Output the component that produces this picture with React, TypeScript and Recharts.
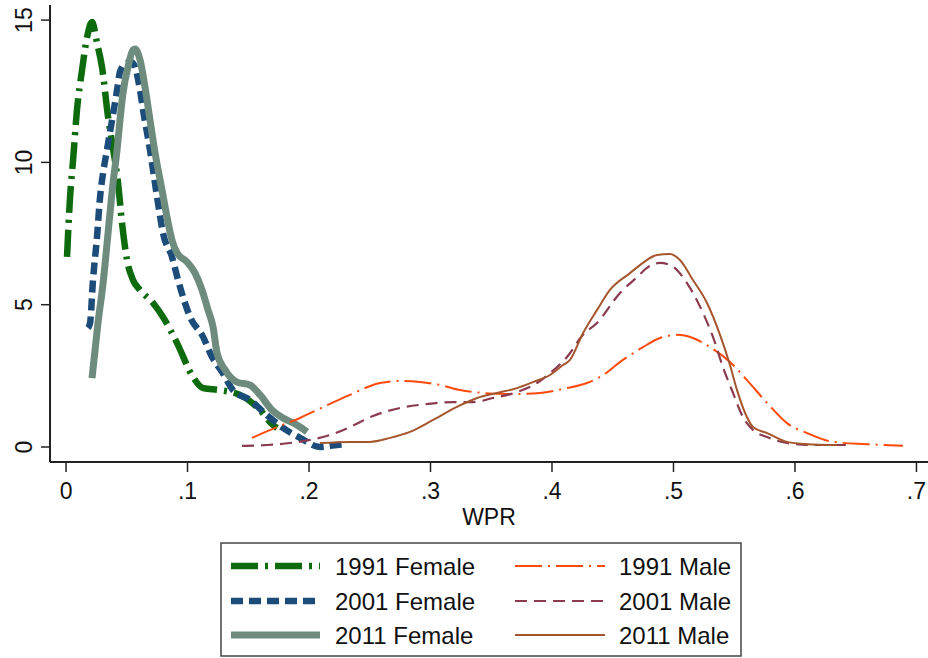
import React from 'react';
import { LineChart, Line, XAxis, YAxis } from 'recharts';

// ---- data (x = WPR, y = density) ----
const f1991X = [0.0008, 0.0033, 0.0058, 0.009, 0.0132, 0.0173, 0.0214, 0.0255, 0.0296, 0.0346, 0.0379, 0.0428, 0.0461, 0.0502, 0.0551, 0.0609, 0.0716, 0.0798, 0.0914, 0.1045, 0.1128, 0.1267, 0.1432, 0.1597, 0.1704, 0.1737];
const f1991Y = [6.68, 8.78, 10.08, 11.84, 13.25, 14.4, 14.93, 14.2, 13.35, 11.6, 10.7, 9.28, 7.87, 6.57, 5.87, 5.52, 5.06, 4.57, 3.65, 2.46, 2.07, 2.0, 1.83, 1.3, 0.77, 0.67];

const f2001X = [0.0181, 0.0198, 0.0222, 0.0255, 0.028, 0.0305, 0.0337, 0.0379, 0.042, 0.0444, 0.0494, 0.0535, 0.0568, 0.0609, 0.0634, 0.0691, 0.0716, 0.0757, 0.0798, 0.0872, 0.0922, 0.0963, 0.1021, 0.1128, 0.1202, 0.1284, 0.1374, 0.1514, 0.1654, 0.1786, 0.1926, 0.209, 0.223, 0.231];
const f2001Y = [4.18, 4.36, 5.87, 7.38, 8.78, 9.63, 10.44, 11.49, 12.54, 13.18, 13.49, 13.53, 13.35, 12.54, 11.84, 10.44, 9.73, 8.57, 7.52, 6.68, 5.87, 5.27, 4.57, 3.87, 3.16, 2.64, 2.0, 1.65, 1.12, 0.67, 0.32, 0.0, 0.07, 0.1];

const f2011X = [0.0214, 0.0263, 0.0305, 0.0346, 0.0387, 0.042, 0.0444, 0.0469, 0.051, 0.0551, 0.0568, 0.0609, 0.065, 0.0691, 0.0733, 0.079, 0.0831, 0.0872, 0.0914, 0.0996, 0.1062, 0.1119, 0.1169, 0.121, 0.1243, 0.1309, 0.1407, 0.1514, 0.1597, 0.1695, 0.1786, 0.1901, 0.1984];
const f2011Y = [2.42, 4.36, 5.76, 7.52, 9.28, 10.44, 11.49, 12.44, 13.35, 13.95, 13.98, 13.6, 12.65, 11.49, 10.33, 9.03, 8.08, 7.27, 6.82, 6.5, 6.11, 5.52, 4.81, 4.22, 3.3, 2.71, 2.28, 2.18, 1.83, 1.3, 1.02, 0.77, 0.53];

const m1991X = [0.1531, 0.172, 0.1926, 0.2115, 0.2337, 0.2584, 0.2749, 0.2914, 0.3078, 0.3243, 0.3432, 0.3654, 0.3901, 0.4123, 0.4288, 0.4395, 0.4584, 0.4749, 0.4889, 0.5029, 0.516, 0.53, 0.5465, 0.5605, 0.577, 0.5934, 0.6099, 0.6313, 0.6593, 0.6889];
const m1991Y = [0.32, 0.67, 1.02, 1.4, 1.83, 2.25, 2.32, 2.28, 2.18, 2.0, 1.9, 1.86, 1.9, 2.07, 2.25, 2.46, 3.06, 3.51, 3.83, 3.94, 3.83, 3.51, 2.99, 2.35, 1.55, 0.84, 0.49, 0.18, 0.1, 0.04];

const m2001X = [0.1449, 0.1654, 0.1844, 0.2008, 0.2173, 0.2337, 0.2527, 0.2749, 0.2971, 0.3185, 0.335, 0.3514, 0.3712, 0.3877, 0.3984, 0.4123, 0.4255, 0.437, 0.456, 0.47, 0.479, 0.4889, 0.4988, 0.5111, 0.5243, 0.5325, 0.5407, 0.549, 0.5572, 0.5654, 0.577, 0.5934, 0.6148, 0.6428];
const m2001Y = [0.04, 0.07, 0.14, 0.25, 0.42, 0.7, 1.09, 1.37, 1.51, 1.58, 1.58, 1.72, 1.93, 2.25, 2.6, 3.16, 3.94, 4.36, 5.41, 5.97, 6.32, 6.47, 6.36, 5.76, 4.71, 3.87, 2.81, 1.9, 1.05, 0.6, 0.35, 0.14, 0.07, 0.07];

const m2011X = [0.209, 0.2337, 0.2502, 0.2667, 0.2831, 0.3021, 0.3218, 0.3383, 0.3547, 0.3712, 0.3844, 0.3984, 0.4091, 0.4148, 0.4255, 0.437, 0.4477, 0.4642, 0.4749, 0.4864, 0.4971, 0.5053, 0.516, 0.5276, 0.5383, 0.5465, 0.5523, 0.5605, 0.5654, 0.577, 0.5934, 0.6099, 0.6346];
const m2011Y = [0.14, 0.18, 0.18, 0.32, 0.53, 0.95, 1.41, 1.72, 1.9, 2.07, 2.28, 2.53, 2.88, 3.06, 4.0, 4.81, 5.52, 6.11, 6.47, 6.75, 6.78, 6.57, 5.87, 5.06, 3.94, 2.88, 2.0, 1.05, 0.7, 0.49, 0.18, 0.1, 0.07];

const xTicks = [0, 0.1, 0.2, 0.3, 0.4, 0.5, 0.6, 0.7];
const xTickLabels = ['0', '.1', '.2', '.3', '.4', '.5', '.6', '.7'];
const yTicks = [0, 5, 10, 15];
const yTickLabels = ['0', '5', '10', '15'];
const seriesNames = ['1991 Female', '2001 Female', '2011 Female', '1991 Male', '2001 Male', '2011 Male'];

const zip = (xs: number[], ys: number[]) => xs.map((x, i) => ({ x, y: ys[i] }));

const series = [
  { name: seriesNames[0], data: zip(f1991X, f1991Y), color: '#0d6a0d', width: 6.5, dash: '27 7 3 7' },
  { name: seriesNames[1], data: zip(f2001X, f2001Y), color: '#1c4c7a', width: 6.5, dash: '12 6' },
  { name: seriesNames[2], data: zip(f2011X, f2011Y), color: '#6e8c7e', width: 7, dash: undefined },
  { name: seriesNames[3], data: zip(m1991X, m1991Y), color: '#ff4a0a', width: 2, dash: '27 6 2 6' },
  { name: seriesNames[4], data: zip(m2001X, m2001Y), color: '#8a3b4e', width: 2.2, dash: '12 7' },
  { name: seriesNames[5], data: zip(m2011X, m2011Y), color: '#a6562e', width: 2, dash: undefined },
];

const FONT = '"Liberation Sans", Arial, sans-serif';

const YTick = (props: any) => {
  const { y, payload } = props;
  const idx = yTicks.indexOf(payload.value);
  return (
    <g transform={`translate(32, ${y}) rotate(-90)`}>
      <text x={0} y={0} textAnchor="middle" fontSize={23} fontFamily={FONT} fill="#111">
        {idx >= 0 ? yTickLabels[idx] : payload.value}
      </text>
    </g>
  );
};

const XLabel = (props: any) => {
  const vb = props.viewBox || {};
  return (
    <text x={vb.x + vb.width / 2} y={vb.y + 63} textAnchor="middle" fontSize={23} fontFamily={FONT} fill="#111">
      WPR
    </text>
  );
};

const LegendBox = () => {
  const rows = [566, 601, 635];
  return (
    <svg width={928} height={658} style={{ position: 'absolute', left: 0, top: 0, pointerEvents: 'none' }}>
      <rect x={221} y={543} width={520} height={113} fill="#fff" stroke="#444" strokeWidth={1.5} />
      {series.map((s, i) => {
        const col = i < 3 ? 0 : 1;
        const row = i % 3;
        const lx0 = col === 0 ? 231 : 515;
        const lx1 = col === 0 ? 320 : 605;
        const tx = col === 0 ? 335 : 619;
        const cy = rows[row];
        return (
          <g key={s.name}>
            <line x1={lx0} x2={lx1} y1={cy} y2={cy} stroke={s.color} strokeWidth={s.width} strokeDasharray={s.dash} />
            <text x={tx} y={cy + 8.5} fontSize={24} fontFamily={FONT} fill="#111">
              {s.name}
            </text>
          </g>
        );
      })}
    </svg>
  );
};

export default function App() {
  return (
    <div style={{ position: 'absolute', left: 0, top: 0, width: 928, height: 658, background: '#fff', overflow: 'hidden' }}>
      <LineChart width={928} height={540} margin={{ top: 5, right: 0, bottom: 0, left: 0 }}>
        <XAxis
          xAxisId="top"
          orientation="top"
          type="number"
          domain={[-0.0132, 0.7095]}
          allowDataOverflow
          height={0}
          tick={false}
          tickLine={false}
          axisLine={{ stroke: '#555', strokeWidth: 1.5 }}
        />
        <XAxis
          dataKey="x"
          type="number"
          domain={[-0.0132, 0.7095]}
          allowDataOverflow
          ticks={xTicks}
          tickFormatter={(v: number) => {
            const i = xTicks.findIndex((t) => Math.abs(t - v) < 1e-9);
            return i >= 0 ? xTickLabels[i] : String(v);
          }}
          height={78}
          tickSize={10}
          tickMargin={11}
          tick={{ fontSize: 23, fontFamily: FONT, fill: '#111' }}
          tickLine={{ stroke: '#222', strokeWidth: 1.5 }}
          axisLine={{ stroke: '#222', strokeWidth: 2 }}
          label={<XLabel />}
          interval={0}
        />
        <YAxis
          type="number"
          domain={[-0.527, 15.53]}
          allowDataOverflow
          ticks={yTicks}
          width={50}
          tickSize={9}
          tick={<YTick />}
          tickLine={{ stroke: '#222', strokeWidth: 1.5 }}
          axisLine={{ stroke: '#222', strokeWidth: 2 }}
          interval={0}
        />
        {series.map((s) => (
          <Line
            key={s.name}
            data={s.data}
            dataKey="y"
            type="monotone"
            stroke={s.color}
            strokeWidth={s.width}
            strokeDasharray={s.dash}
            dot={false}
            activeDot={false}
            isAnimationActive={false}
          />
        ))}
      </LineChart>
      <LegendBox />
    </div>
  );
}
